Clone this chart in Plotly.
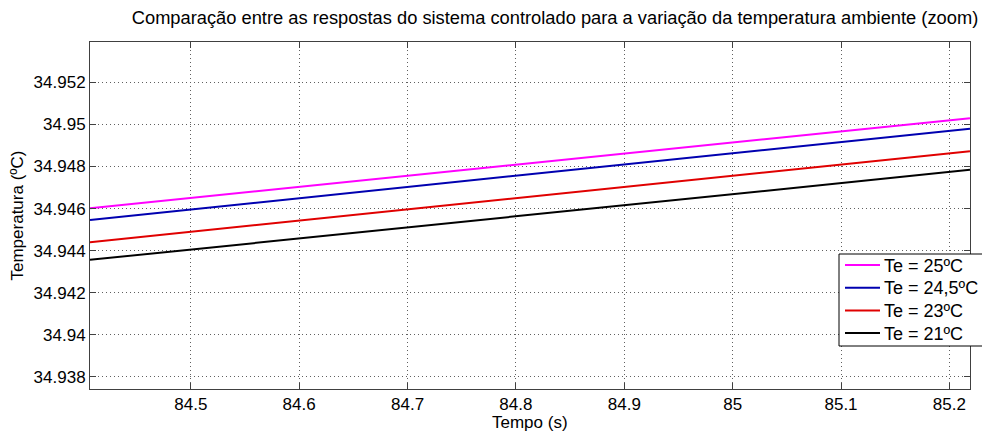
import plotly.graph_objects as go

# Data (straight lines, endpoints at axis limits)
tempo = [84.407, 85.219]
te_25 = [34.94601, 34.95030]
te_245 = [34.94546, 34.94980]
te_23 = [34.94440, 34.94873]
te_21 = [34.94356, 34.94784]

names = ["Te = 25ºC", "Te = 24,5ºC", "Te = 23ºC", "Te = 21ºC"]
series = [te_25, te_245, te_23, te_21]
colors = ["#ff00ff", "#0000b0", "#e00000", "#000000"]

x_ticks = [84.5, 84.6, 84.7, 84.8, 84.9, 85.0, 85.1, 85.2]
x_labels = ["84.5", "84.6", "84.7", "84.8", "84.9", "85", "85.1", "85.2"]
y_ticks = [34.938, 34.940, 34.942, 34.944, 34.946, 34.948, 34.950, 34.952]
y_labels = ["34.938", "34.94", "34.942", "34.944", "34.946", "34.948", "34.95", "34.952"]

fig = go.Figure()
for n, s, c in zip(names, series, colors):
    fig.add_trace(go.Scatter(x=tempo, y=s, mode="lines", name=n,
                             line=dict(color=c, width=2)))

font_family = "Liberation Sans, Arial, sans-serif"
W, H = 982, 433
L, R, T, B = 90, 970, 42, 389


def px(xp):
    return (xp - L) / (R - L)


def py(yp):
    return (B - yp) / (B - T)


# MATLAB-style legend box (drawn in paper coordinates)
shapes = [dict(type="rect", xref="paper", yref="paper",
               x0=px(839), x1=px(1000), y0=py(346), y1=py(254),
               fillcolor="white", line=dict(color="black", width=1), layer="above")]
annotations = []
row_y = [265, 287.7, 310.4, 333]
for n, c, ry in zip(names, colors, row_y):
    shapes.append(dict(type="line", xref="paper", yref="paper",
                       x0=px(845), x1=px(880), y0=py(ry), y1=py(ry),
                       line=dict(color=c, width=2), layer="above"))
    annotations.append(dict(text=n, xref="paper", yref="paper", x=px(882), y=py(ry + 0.5),
                            xanchor="left", yanchor="middle", showarrow=False,
                            font=dict(size=18)))

annotations += [
    dict(text="Tempo (s)", xref="paper", yref="paper", x=0.5, y=py(422),
         xanchor="center", yanchor="middle", showarrow=False, font=dict(size=17)),
    dict(text="Temperatura (ºC)", xref="paper", yref="paper", x=px(17),
         y=0.5, xanchor="center", yanchor="middle", textangle=-90,
         showarrow=False, font=dict(size=17)),
]

fig.update_layout(
    width=W, height=H,
    margin=dict(l=L, r=W - R, t=T, b=H - B, autoexpand=False),
    paper_bgcolor="white", plot_bgcolor="white",
    font=dict(family=font_family, size=17, color="black"),
    showlegend=False,
    xaxis=dict(range=[84.407, 85.219], tickvals=x_ticks, ticktext=x_labels,
               showgrid=True, gridcolor="#606060", griddash="1px,3px", gridwidth=1,
               showline=True, linecolor="#404040", linewidth=1, mirror="ticks",
               ticks="inside", ticklen=6, tickcolor="#404040",
               zeroline=False, automargin=False,
               tickfont=dict(size=17)),
    yaxis=dict(range=[34.93742, 34.95392], tickvals=y_ticks, ticktext=y_labels,
               showgrid=True, gridcolor="#606060", griddash="1px,3px", gridwidth=1,
               showline=True, linecolor="#404040", linewidth=1, mirror="ticks",
               ticks="inside", ticklen=6, tickcolor="#404040",
               zeroline=False, automargin=False,
               tickfont=dict(size=17)),
    title=dict(text="Comparação entre as respostas do sistema controlado para a variação da temperatura ambiente (zoom)",
               x=555 / W, xanchor="center", y=1 - 18 / H, yanchor="middle",
               font=dict(size=18.3)),
    shapes=shapes,
    annotations=annotations,
)

fig.write_html("out.html", config={"displayModeBar": False},
               post_script="document.body.style.margin='0';")
